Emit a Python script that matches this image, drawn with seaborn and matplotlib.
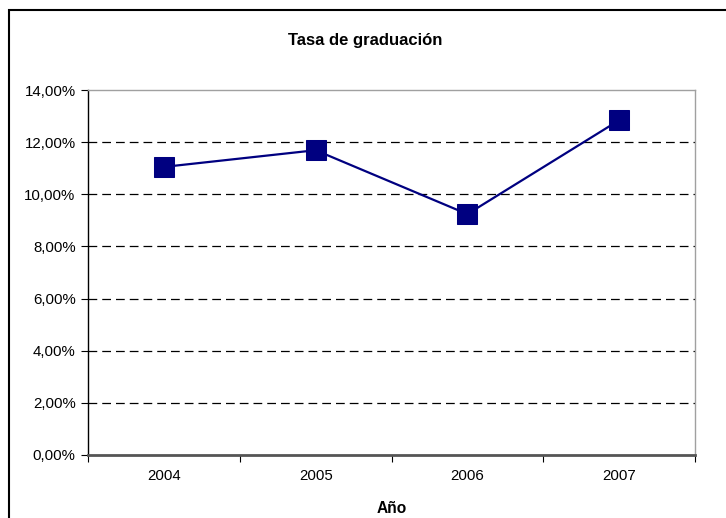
import matplotlib
matplotlib.use("Agg")
import matplotlib.pyplot as plt
from matplotlib.patches import Rectangle
from matplotlib.ticker import FixedLocator, FuncFormatter
import seaborn as sns
import pandas as pd

years = ["2004", "2005", "2006", "2007"]
rates = [11.05, 11.69, 9.24, 12.84]
y_ticks = [0, 2, 4, 6, 8, 10, 12, 14]

sns.set_theme(style="white")
plt.rcParams["font.family"] = ["Liberation Sans", "DejaVu Sans"]

df = pd.DataFrame({"pos": range(len(years)), "rate": rates})

fig = plt.figure(figsize=(7.26, 5.18), dpi=100)
ax = fig.add_axes([88 / 726, 1 - 455 / 518, (695 - 88) / 726, (455 - 90) / 518])

sns.lineplot(data=df, x="pos", y="rate", ax=ax, color="#000080", linewidth=1.6,
             marker="s", markersize=15, markeredgecolor="#000080",
             markerfacecolor="#000080", zorder=5)

ax.set_xlim(-0.5, len(years) - 0.5)
ax.set_ylim(0, 14)

# dashed gridlines at each 2% step
for v in y_ticks[1:-1]:
    ax.axhline(v, color="#000000", linestyle=(0, (7, 4)), linewidth=0.9, zorder=1)

ax.yaxis.set_major_locator(FixedLocator(y_ticks))
ax.yaxis.set_major_formatter(FuncFormatter(lambda v, p: f"{v:.2f}".replace(".", ",") + "%"))

# category boundaries get tick marks, year labels sit between them
ax.xaxis.set_major_locator(FixedLocator([i - 0.5 for i in range(len(years) + 1)]))
ax.xaxis.set_major_formatter(FuncFormatter(lambda v, p: ""))
ax.xaxis.set_minor_locator(FixedLocator(list(range(len(years)))))
ax.set_xticklabels(years, minor=True)
ax.tick_params(axis="x", which="major", length=5, width=0.8, color="#000000", direction="out", bottom=True)
ax.tick_params(axis="x", which="minor", length=0, labelsize=10.8, pad=10, colors="#000000")
ax.tick_params(axis="y", length=5, width=0.8, direction="out", left=True, labelsize=10.8, colors="#000000", pad=4)

for side in ["top", "right"]:
    ax.spines[side].set_color("#a0a0a0")
    ax.spines[side].set_linewidth(1.0)
ax.spines["left"].set_color("#000000")
ax.spines["left"].set_linewidth(1.0)
ax.spines["bottom"].set_color("#555555")
ax.spines["bottom"].set_linewidth(2.0)

ax.set_ylabel("")
ax.set_xlabel("Año", fontsize=11.2, fontweight="bold", labelpad=13, color="#000000")
fig.text(365 / 726, 1 - 40 / 518, "Tasa de graduación", ha="center", va="center",
         fontsize=12, fontweight="bold", color="#000000")

# outer chart frame
fig.add_artist(Rectangle((9 / 726, -0.1), 1.0, 1 - 10 / 518 + 0.1, transform=fig.transFigure,
                         fill=False, edgecolor="#000000", linewidth=1.5, clip_on=False))

fig.savefig("out.png", dpi=100)
